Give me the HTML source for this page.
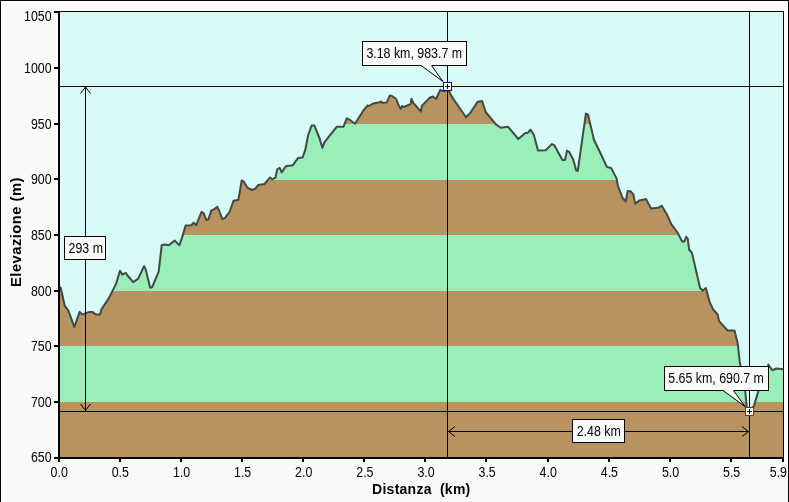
<!DOCTYPE html>
<html><head><meta charset="utf-8"><style>
html,body{margin:0;padding:0;background:#f8fbf8;}
svg{display:block}
.t{font-family:"Liberation Sans",sans-serif;font-size:14.5px;fill:#000}
.b{font-family:"Liberation Sans",sans-serif;font-size:14px;font-weight:bold;fill:#000}
</style></head><body>
<svg width="789" height="502" viewBox="0 0 789 502" style="will-change:transform">
<defs><clipPath id="c"><polygon points="59.0,287.3 60.7,287.7 64.8,306.0 68.2,310.1 74.3,326.8 79.7,311.9 82.4,314.6 88.5,312.1 92.6,312.1 96.0,314.6 100.0,314.6 101.4,309.4 108.9,298.1 116.0,283.9 120.0,270.8 122.4,274.7 125.8,272.8 127.5,275.5 133.2,282.1 138.0,278.9 144.1,266.1 145.4,268.6 150.2,287.7 152.2,287.0 158.7,271.7 161.7,245.2 164.8,244.6 168.8,245.2 174.5,240.6 179.4,245.2 182.1,237.4 185.6,225.6 191.3,225.2 193.7,222.8 196.3,225.2 201.4,212.0 203.5,213.0 206.5,220.1 208.5,219.1 211.2,210.6 214.6,208.9 217.3,206.9 219.3,211.0 222.2,219.1 224.8,218.1 229.5,212.0 233.5,200.8 238.4,199.8 241.7,180.5 243.7,181.5 247.2,187.6 251.8,190.0 255.3,188.6 258.3,185.0 264.4,184.1 270.1,177.4 272.2,179.5 275.6,177.4 277.2,169.3 279.7,167.9 281.7,172.4 285.8,166.3 292.9,165.2 298.0,158.1 302.6,157.5 305.2,150.2 308.2,135.0 311.7,125.4 314.3,125.4 319.4,138.0 322.4,147.8 324.5,142.1 336.7,126.8 343.4,126.8 346.8,118.3 348.9,119.3 355.0,123.7 363.9,109.8 367.7,105.3 368.9,106.0 373.4,103.4 378.4,102.6 381.0,101.5 382.2,102.8 386.7,102.6 389.9,95.4 392.4,96.2 396.2,99.0 398.1,104.1 400.6,108.9 402.1,106.0 403.8,107.0 410.6,104.1 411.4,98.8 413.3,102.8 420.9,111.7 421.9,106.0 424.1,103.4 429.8,97.7 432.9,96.5 436.1,99.0 440.2,89.9 442.5,91.2 445.4,91.0 447.4,88.0 452.2,97.4 466.0,117.3 470.5,112.6 477.6,101.8 482.1,101.0 485.7,112.0 495.9,124.4 500.6,127.8 508.1,126.8 518.3,139.0 525.4,132.9 527.8,132.9 530.4,129.5 533.9,135.0 538.0,150.6 545.7,150.2 551.8,144.1 554.2,145.1 562.4,160.0 565.0,160.0 567.0,150.6 569.1,151.8 573.1,159.3 576.2,170.5 577.8,170.9 585.9,113.6 588.0,114.6 594.0,140.0 600.0,152.2 607.0,167.1 611.0,167.9 616.5,178.1 617.9,185.8 622.6,198.0 625.7,201.5 627.7,190.9 630.7,191.3 633.4,194.6 635.2,203.7 639.5,200.4 646.0,199.0 651.1,208.6 658.2,207.8 661.8,205.7 667.3,215.3 671.4,224.4 677.5,232.5 682.1,241.4 684.5,241.4 686.2,236.8 687.8,238.9 689.1,249.5 691.9,252.8 700.1,288.0 702.8,290.7 705.8,288.0 710.0,303.0 713.2,309.4 717.6,314.4 719.1,321.1 727.6,330.5 734.5,330.5 737.7,343.3 739.9,363.0 745.2,391.0 746.7,406.6 749.0,411.0 754.0,405.9 758.4,390.9 768.4,364.5 772.2,370.2 776.6,368.5 783.0,369.2 783,458 59,458"/></clipPath></defs>
<rect x="0" y="0" width="789" height="502" fill="#f8fbf8"/>
<rect x="1" y="1" width="787" height="501" fill="none" stroke="#fff" stroke-width="1" shape-rendering="crispEdges" transform="translate(0.5,0.5)"/>
<rect x="0" y="0" width="789" height="1" fill="#000"/>
<rect x="0" y="0" width="1" height="502" fill="#000"/>
<rect x="788" y="0" width="1" height="502" fill="#000"/>
<rect x="57" y="10" width="728" height="450" fill="#fff"/>
<rect x="59" y="12" width="725" height="446" fill="#d8fbf7"/>
<g clip-path="url(#c)" shape-rendering="crispEdges">
<rect x="59" y="68" width="725" height="56" fill="#b89360"/>
<rect x="59" y="124" width="725" height="56" fill="#99eeba"/>
<rect x="59" y="180" width="725" height="55" fill="#b89360"/>
<rect x="59" y="235" width="725" height="56" fill="#99eeba"/>
<rect x="59" y="291" width="725" height="55" fill="#b89360"/>
<rect x="59" y="346" width="725" height="56" fill="#99eeba"/>
<rect x="59" y="402" width="725" height="56" fill="#b89360"/>
</g>
<polyline points="59.0,287.3 60.7,287.7 64.8,306.0 68.2,310.1 74.3,326.8 79.7,311.9 82.4,314.6 88.5,312.1 92.6,312.1 96.0,314.6 100.0,314.6 101.4,309.4 108.9,298.1 116.0,283.9 120.0,270.8 122.4,274.7 125.8,272.8 127.5,275.5 133.2,282.1 138.0,278.9 144.1,266.1 145.4,268.6 150.2,287.7 152.2,287.0 158.7,271.7 161.7,245.2 164.8,244.6 168.8,245.2 174.5,240.6 179.4,245.2 182.1,237.4 185.6,225.6 191.3,225.2 193.7,222.8 196.3,225.2 201.4,212.0 203.5,213.0 206.5,220.1 208.5,219.1 211.2,210.6 214.6,208.9 217.3,206.9 219.3,211.0 222.2,219.1 224.8,218.1 229.5,212.0 233.5,200.8 238.4,199.8 241.7,180.5 243.7,181.5 247.2,187.6 251.8,190.0 255.3,188.6 258.3,185.0 264.4,184.1 270.1,177.4 272.2,179.5 275.6,177.4 277.2,169.3 279.7,167.9 281.7,172.4 285.8,166.3 292.9,165.2 298.0,158.1 302.6,157.5 305.2,150.2 308.2,135.0 311.7,125.4 314.3,125.4 319.4,138.0 322.4,147.8 324.5,142.1 336.7,126.8 343.4,126.8 346.8,118.3 348.9,119.3 355.0,123.7 363.9,109.8 367.7,105.3 368.9,106.0 373.4,103.4 378.4,102.6 381.0,101.5 382.2,102.8 386.7,102.6 389.9,95.4 392.4,96.2 396.2,99.0 398.1,104.1 400.6,108.9 402.1,106.0 403.8,107.0 410.6,104.1 411.4,98.8 413.3,102.8 420.9,111.7 421.9,106.0 424.1,103.4 429.8,97.7 432.9,96.5 436.1,99.0 440.2,89.9 442.5,91.2 445.4,91.0 447.4,88.0 452.2,97.4 466.0,117.3 470.5,112.6 477.6,101.8 482.1,101.0 485.7,112.0 495.9,124.4 500.6,127.8 508.1,126.8 518.3,139.0 525.4,132.9 527.8,132.9 530.4,129.5 533.9,135.0 538.0,150.6 545.7,150.2 551.8,144.1 554.2,145.1 562.4,160.0 565.0,160.0 567.0,150.6 569.1,151.8 573.1,159.3 576.2,170.5 577.8,170.9 585.9,113.6 588.0,114.6 594.0,140.0 600.0,152.2 607.0,167.1 611.0,167.9 616.5,178.1 617.9,185.8 622.6,198.0 625.7,201.5 627.7,190.9 630.7,191.3 633.4,194.6 635.2,203.7 639.5,200.4 646.0,199.0 651.1,208.6 658.2,207.8 661.8,205.7 667.3,215.3 671.4,224.4 677.5,232.5 682.1,241.4 684.5,241.4 686.2,236.8 687.8,238.9 689.1,249.5 691.9,252.8 700.1,288.0 702.8,290.7 705.8,288.0 710.0,303.0 713.2,309.4 717.6,314.4 719.1,321.1 727.6,330.5 734.5,330.5 737.7,343.3 739.9,363.0 745.2,391.0 746.7,406.6 749.0,411.0 754.0,405.9 758.4,390.9 768.4,364.5 772.2,370.2 776.6,368.5 783.0,369.2" fill="none" stroke="#3f4a45" stroke-width="2" stroke-linejoin="round"/>
<g shape-rendering="crispEdges">
<rect x="58" y="11" width="2" height="448" fill="#000"/>
<rect x="58" y="457" width="726" height="2" fill="#000"/>
<rect x="58" y="11" width="726" height="1" fill="#000"/>
<rect x="783" y="11" width="1" height="448" fill="#000"/>
<rect x="54" y="11" width="5" height="2" fill="#000"/><rect x="54" y="67" width="5" height="2" fill="#000"/><rect x="54" y="123" width="5" height="2" fill="#000"/><rect x="54" y="178" width="5" height="2" fill="#000"/><rect x="54" y="234" width="5" height="2" fill="#000"/><rect x="54" y="290" width="5" height="2" fill="#000"/><rect x="54" y="345" width="5" height="2" fill="#000"/><rect x="54" y="401" width="5" height="2" fill="#000"/><rect x="54" y="457" width="5" height="2" fill="#000"/>
<rect x="58" y="459" width="2" height="3" fill="#000"/><rect x="119" y="459" width="2" height="3" fill="#000"/><rect x="180" y="459" width="2" height="3" fill="#000"/><rect x="241" y="459" width="2" height="3" fill="#000"/><rect x="302" y="459" width="2" height="3" fill="#000"/><rect x="363" y="459" width="2" height="3" fill="#000"/><rect x="424" y="459" width="2" height="3" fill="#000"/><rect x="485" y="459" width="2" height="3" fill="#000"/><rect x="547" y="459" width="2" height="3" fill="#000"/><rect x="608" y="459" width="2" height="3" fill="#000"/><rect x="669" y="459" width="2" height="3" fill="#000"/><rect x="730" y="459" width="2" height="3" fill="#000"/><rect x="782" y="459" width="2" height="3" fill="#000"/>
<!-- cursor lines -->
<rect x="447" y="12" width="1" height="446" fill="#000"/>
<rect x="749" y="12" width="1" height="446" fill="#000"/>
<rect x="59" y="86" width="725" height="1" fill="#000"/>
<rect x="59" y="411" width="725" height="1" fill="#000"/>
<!-- vertical arrow -->
<rect x="85" y="87" width="1" height="324" fill="#000"/>
<!-- horizontal arrow -->
<rect x="448" y="431" width="301" height="1" fill="#000"/>
</g>
<g stroke="#000" stroke-width="1" fill="none">
<path d="M80.5,93.5 L85.5,87 L90.5,93.5"/>
<path d="M80.5,404 L85.5,410.5 L90.5,404"/>
<path d="M455,426.5 L448.5,431.5 L455,436.5"/>
<path d="M742,426.5 L748.5,431.5 L742,436.5"/>
</g>
<!-- labels -->
<g shape-rendering="crispEdges">
<rect x="64.5" y="236.5" width="41" height="23" fill="#f8fbf8" stroke="#000"/>
<rect x="572.5" y="419.5" width="52" height="23" fill="#f8fbf8" stroke="#000"/>
<rect x="362.5" y="41.5" width="104" height="24" fill="#f8fbf8" stroke="#000"/>
<rect x="664.5" y="366.5" width="104" height="24" fill="#f8fbf8" stroke="#000"/>
</g>
<path d="M421,65 L443,81.5 L431.5,65 Z" fill="#f8fbf8"/>
<path d="M421,65.5 L443,81.5 L431.5,65.5" fill="none" stroke="#000"/>
<path d="M723,390 L745,406.5 L733.5,390 Z" fill="#f8fbf8"/>
<path d="M723,390.5 L745,406.5 L733.5,390.5" fill="none" stroke="#000"/>
<text transform="translate(68.6,253) scale(0.855,1)" text-anchor="start" class="t">293 m</text>
<text transform="translate(576.7,436) scale(0.855,1)" text-anchor="start" class="t">2.48 km</text>
<text transform="translate(366.4,58) scale(0.855,1)" text-anchor="start" class="t">3.18 km, 983.7 m</text>
<text transform="translate(668.3,383) scale(0.855,1)" text-anchor="start" class="t">5.65 km, 690.7 m</text>
<!-- markers -->
<g shape-rendering="crispEdges">
<rect x="443.5" y="82.5" width="8" height="8" fill="#fff" stroke="#0000a8"/>
<rect x="445" y="86" width="5" height="1" fill="#000"/><rect x="447" y="84" width="1" height="5" fill="#000"/>
<rect x="745.5" y="407.5" width="8" height="8" fill="#fff" stroke="#e00000"/>
<rect x="747" y="411" width="5" height="1" fill="#000"/><rect x="749" y="409" width="1" height="5" fill="#000"/>
</g>
<text transform="translate(51.6,21) scale(0.855,1)" text-anchor="end" class="t">1050</text><text transform="translate(51.6,73) scale(0.855,1)" text-anchor="end" class="t">1000</text><text transform="translate(51.6,129) scale(0.855,1)" text-anchor="end" class="t">950</text><text transform="translate(51.6,184) scale(0.855,1)" text-anchor="end" class="t">900</text><text transform="translate(51.6,240) scale(0.855,1)" text-anchor="end" class="t">850</text><text transform="translate(51.6,296) scale(0.855,1)" text-anchor="end" class="t">800</text><text transform="translate(51.6,351) scale(0.855,1)" text-anchor="end" class="t">750</text><text transform="translate(51.6,407) scale(0.855,1)" text-anchor="end" class="t">700</text><text transform="translate(51.6,462) scale(0.855,1)" text-anchor="end" class="t">650</text>
<text transform="translate(59.2,477) scale(0.855,1)" text-anchor="middle" class="t">0.0</text><text transform="translate(120.3,477) scale(0.855,1)" text-anchor="middle" class="t">0.5</text><text transform="translate(181.5,477) scale(0.855,1)" text-anchor="middle" class="t">1.0</text><text transform="translate(242.6,477) scale(0.855,1)" text-anchor="middle" class="t">1.5</text><text transform="translate(303.7,477) scale(0.855,1)" text-anchor="middle" class="t">2.0</text><text transform="translate(364.9,477) scale(0.855,1)" text-anchor="middle" class="t">2.5</text><text transform="translate(426.0,477) scale(0.855,1)" text-anchor="middle" class="t">3.0</text><text transform="translate(487.1,477) scale(0.855,1)" text-anchor="middle" class="t">3.5</text><text transform="translate(548.2,477) scale(0.855,1)" text-anchor="middle" class="t">4.0</text><text transform="translate(609.4,477) scale(0.855,1)" text-anchor="middle" class="t">4.5</text><text transform="translate(670.5,477) scale(0.855,1)" text-anchor="middle" class="t">5.0</text><text transform="translate(731.6,477) scale(0.855,1)" text-anchor="middle" class="t">5.5</text><text transform="translate(787,477) scale(0.855,1)" text-anchor="end" class="t">5.9</text>
<text x="372.1" y="494.2" class="b" style="letter-spacing:0.25px" xml:space="preserve">Distanza  (km)</text>
<text transform="translate(20.6,287) rotate(-90) scale(1.055,1)" class="b" style="letter-spacing:0.45px">Elevazione (m)</text>
</svg>
</body></html>
